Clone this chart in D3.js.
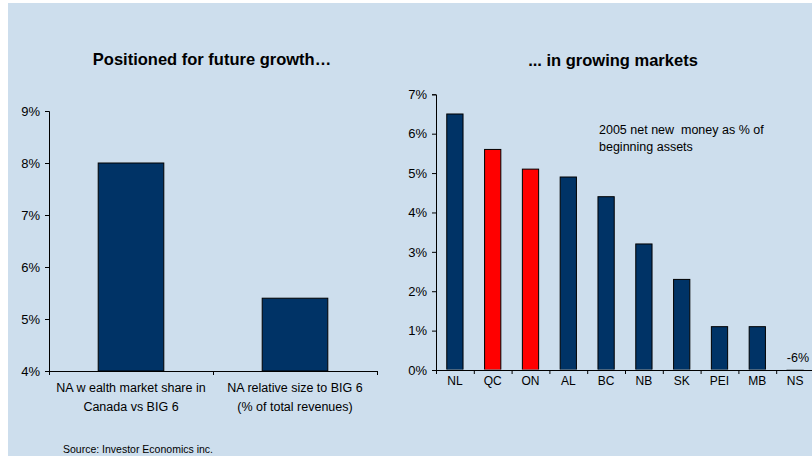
<!DOCTYPE html>
<html>
<head>
<meta charset="utf-8">
<script src="https://cdn.jsdelivr.net/npm/d3@7"></script>
<style>
  html, body { margin: 0; padding: 0; background: #ffffff; }
  svg { display: block; font-family: "Liberation Sans", Arial, sans-serif; }
  text { white-space: pre; }
</style>
</head>
<body>
<svg id="chart" width="812" height="456"></svg>
<script>
// Left panel: NA position versus the Big 6
const leftCategories = ["NA w ealth market share in|Canada vs BIG 6", "NA relative size to BIG 6|(% of total revenues)"];
const leftValues = [8.0, 5.4];
const leftTicks = [4, 5, 6, 7, 8, 9];

// Right panel: 2005 net new money by province
const provinces = ["NL", "QC", "ON", "AL", "BC", "NB", "SK", "PEI", "MB", "NS"];
const netNewMoney = [6.5, 5.6, 5.1, 4.9, 4.4, 3.2, 2.3, 1.1, 1.1, -6];
const highlighted = ["QC", "ON"];
const rightTicks = [0, 1, 2, 3, 4, 5, 6, 7];

const NAVY = "#003366", RED = "#ff0000", BG = "#cddeed";
const svg = d3.select("#chart");

svg.append("rect").attr("x", 8).attr("y", 3).attr("width", 804).attr("height", 453).attr("fill", BG);

const pct = d => d + "%";

// ---------- left panel ----------
const lx = d3.scaleBand().domain(leftCategories).range([49, 377]).paddingInner(0.6).paddingOuter(0.3);
const ly = d3.scaleLinear().domain([4, 9]).range([371, 111]);

svg.append("text").attr("x", 212).attr("y", 65).attr("text-anchor", "middle")
  .attr("font-size", 16.5).attr("font-weight", "bold").text("Positioned for future growth…");

const lg = svg.append("g");
lg.selectAll("rect.bar").data(leftValues).join("rect")
  .attr("x", (d, i) => lx(leftCategories[i]))
  .attr("width", lx.bandwidth())
  .attr("y", d => ly(d))
  .attr("height", d => ly(4) - ly(d))
  .attr("fill", NAVY).attr("stroke", "#000").attr("stroke-width", 1);

lg.append("g").attr("transform", "translate(49,0)")
  .call(d3.axisLeft(ly).tickValues(leftTicks).tickFormat(pct).tickSize(4).tickPadding(5));
const lxLine = d3.scaleLinear().domain([0, 2]).range([49, 377]);
lg.append("g").attr("transform", "translate(0,371)")
  .call(d3.axisBottom(lxLine).tickValues([0, 1, 2]).tickFormat("").tickSize(4));

leftCategories.forEach((c, i) => {
  const cx = lxLine(i + 0.5);
  const t = lg.append("text").attr("text-anchor", "middle").attr("font-size", 12.5).attr("fill", "#000");
  c.split("|").forEach((line, k) => {
    t.append("tspan").attr("x", cx).attr("y", 392 + k * 19).text(line);
  });
});

// ---------- right panel ----------
const bandW = 37.8;
const rx = d3.scaleBand().domain(provinces).range([436, 436 + bandW * provinces.length]).paddingInner(0.57).paddingOuter(0.285);
const ry = d3.scaleLinear().domain([0, 7]).range([370, 94.3]);

svg.append("text").attr("x", 613).attr("y", 66).attr("text-anchor", "middle")
  .attr("font-size", 16.5).attr("font-weight", "bold").text("... in growing markets");

// bars are clipped to the plot area, so the off-scale NS bar stays hidden
svg.append("defs").append("clipPath").attr("id", "plotR")
  .append("rect").attr("x", 436).attr("y", 94).attr("width", 400).attr("height", 275.5);

const rg = svg.append("g");
rg.append("g").attr("clip-path", "url(#plotR)")
  .selectAll("rect").data(provinces).join("rect")
  .attr("x", d => rx(d))
  .attr("width", rx.bandwidth())
  .attr("y", (d, i) => ry(Math.max(0, netNewMoney[i])))
  .attr("height", (d, i) => Math.abs(ry(netNewMoney[i]) - ry(0)))
  .attr("fill", d => highlighted.includes(d) ? RED : NAVY)
  .attr("stroke", "#000").attr("stroke-width", 1);

rg.append("g").attr("transform", "translate(436,0)")
  .call(d3.axisLeft(ry).tickValues(rightTicks).tickFormat(pct).tickSize(4).tickPadding(5));

const rxLine = d3.scaleLinear().domain([0, provinces.length]).range([436, 436 + bandW * provinces.length]);
rg.append("g").attr("transform", "translate(0,370)")
  .call(d3.axisBottom(rxLine).tickValues(d3.range(0, provinces.length + 1)).tickFormat("").tickSize(4));

provinces.forEach((p, i) => {
  rg.append("text").attr("x", rx(p) + rx.bandwidth() / 2).attr("y", 385)
    .attr("text-anchor", "middle").attr("font-size", 12).text(p);
});

// value label for the off-scale NS bar
const nsIdx = provinces.indexOf("NS");
rg.append("text").attr("x", 809).attr("y", 362)
  .attr("text-anchor", "end").attr("font-size", 12.5).text(netNewMoney[nsIdx] + "%");

rg.append("text").attr("font-size", 12.5)
  .selectAll("tspan").data(["2005 net new  money as % of", "beginning assets"]).join("tspan")
  .attr("x", 599).attr("y", (d, i) => 134 + i * 16.5).text(d => d);

// axis styling
svg.selectAll(".domain, .tick line").attr("stroke", "#000");
svg.selectAll(".tick text").attr("font-size", 13).attr("fill", "#000")
  .attr("font-family", "Liberation Sans, Arial, sans-serif");

svg.append("text").attr("x", 63).attr("y", 453).attr("font-size", 10.5).text("Source: Investor Economics inc.");
</script>
</body>
</html>
